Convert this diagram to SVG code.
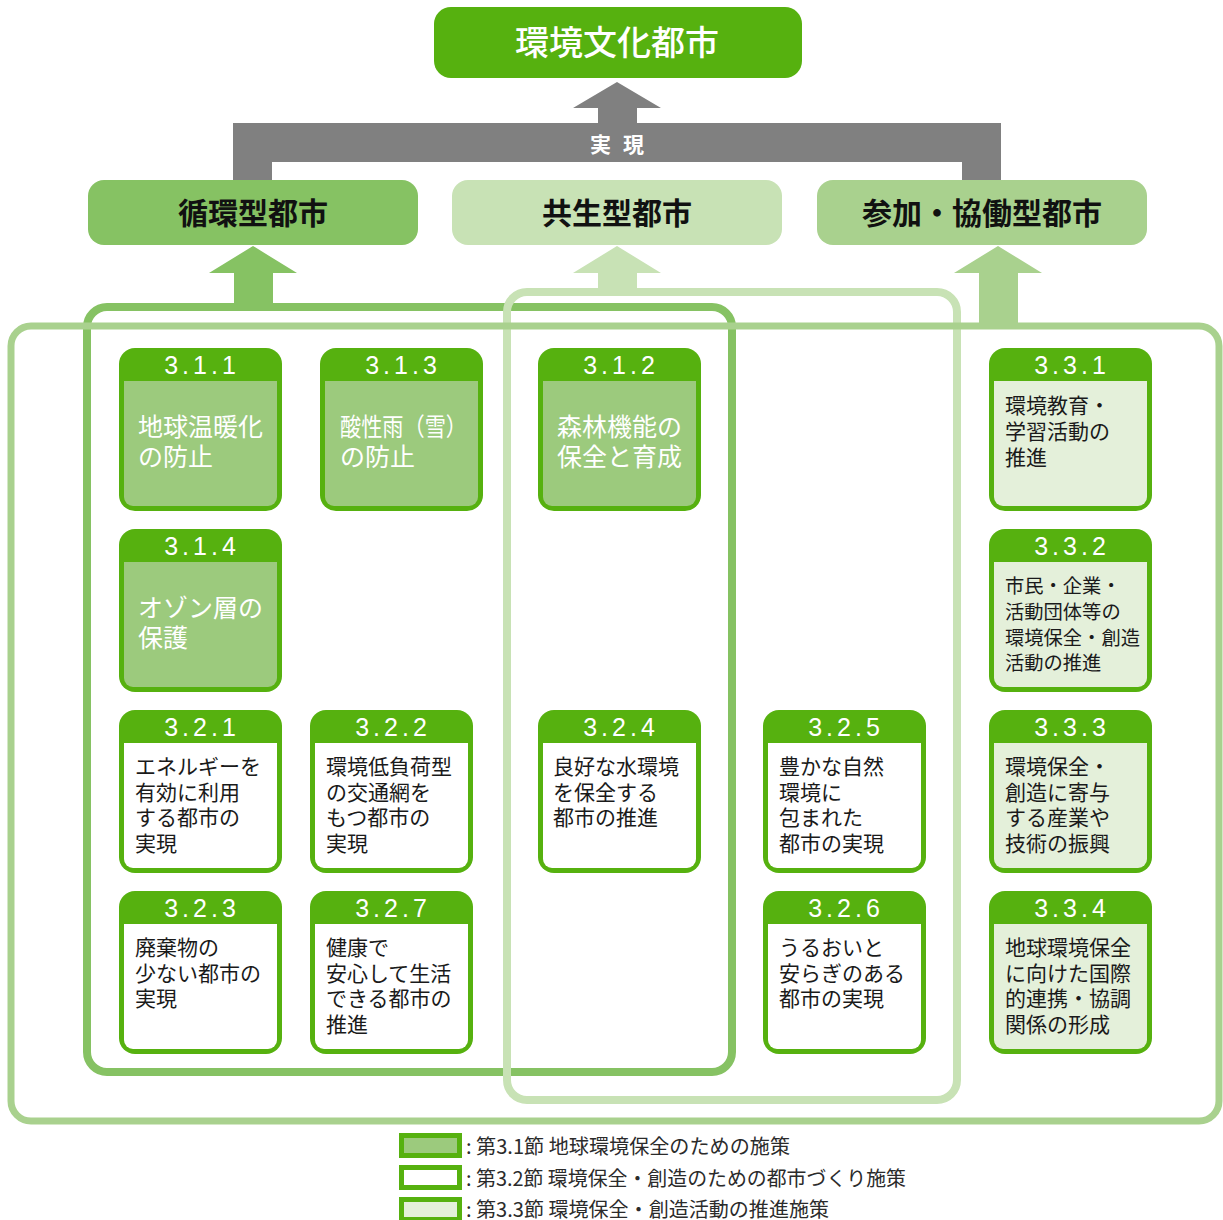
<svg xmlns="http://www.w3.org/2000/svg" width="1223" height="1220" viewBox="0 0 1223 1220">
<style>
.jp{font-family:"Noto Sans CJK JP","Noto Sans",sans-serif}
.num{font-family:"Liberation Sans",Arial,sans-serif;font-size:25px;fill:#fff;letter-spacing:4px;text-anchor:middle}
.hdr{fill:#56b10f}
.b1{fill:#9cca7d}
.b2{fill:#fff}
.b3{fill:#e4f0da}
.tw{fill:#fff;font-size:25px}
.tb{fill:#1a1a1a;font-size:21px}
.sm{font-size:19.3px}
.city{font-size:30px;font-weight:700;fill:#111;text-anchor:middle}
.leg{font-size:20px;fill:#2b2b2b}
</style>
<rect width="1223" height="1220" fill="#fff"/>

<g id="connectors">
  <!-- gray realization arrow -->
  <polygon fill="#808080" points="617,82 661,108 637,108 637,123 1001,123 1001,180 962,180 962,162 272,162 272,180 233,180 233,123 598,123 598,108 573,108"/>
  <!-- green arrows -->
  <polygon fill="#86c263" points="253,246 297,273 273,273 273,309 234,309 234,273 209,273"/>
  <polygon fill="#c8e2b5" points="617,246 661,273 637,273 637,294 598,294 598,273 573,273"/>
  <polygon fill="#a9d18e" points="998,246 1042,273 1018,273 1018,328 979,328 979,273 954,273"/>
  <!-- group outlines -->
  <rect x="87" y="307" width="645" height="765" rx="20" fill="none" stroke="#86c263" stroke-width="8"/>
  <rect x="507" y="292" width="450" height="808" rx="20" fill="none" stroke="#c8e2b5" stroke-width="8"/>
  <rect x="11" y="326" width="1208" height="795" rx="20" fill="none" stroke="#a9d18e" stroke-width="7"/>
</g>

<g id="top">
  <rect x="434" y="7" width="368" height="71" rx="17" fill="#56b10f"/>
  <text class="jp" x="617" y="55" font-size="34" font-weight="500" fill="#fff" text-anchor="middle">環境文化都市</text>
  <text class="jp" x="623" y="152" font-size="21" font-weight="700" fill="#fff" text-anchor="middle" letter-spacing="12">実現</text>
</g>

<g id="city1">
  <rect x="88" y="180" width="330" height="65" rx="16" fill="#86c263"/>
  <text class="jp city" x="253" y="224">循環型都市</text>
</g>
<g id="city2">
  <rect x="452" y="180" width="330" height="65" rx="16" fill="#c8e2b5"/>
  <text class="jp city" x="617" y="224">共生型都市</text>
</g>
<g id="city3">
  <rect x="817" y="180" width="330" height="65" rx="16" fill="#a9d18e"/>
  <text class="jp city" x="982" y="224">参加・協働型都市</text>
</g>

<defs>
  <path id="body" d="M5,33 H158 V149 A9,9 0 0 1 149,158 H14 A9,9 0 0 1 5,149 Z"/>
  <rect id="frame" x="0" y="0" width="163" height="163" rx="16"/>
</defs>

<!-- 3.1 cards -->
<g id="c311" transform="translate(119,348)">
  <use href="#frame" class="hdr"/><use href="#body" class="b1"/>
  <text class="num" x="83" y="26">3.1.1</text>
  <text class="jp tw" x="19" y="88">地球温暖化</text>
  <text class="jp tw" x="19" y="118">の防止</text>
</g>
<g id="c313" transform="translate(320,348)">
  <use href="#frame" class="hdr"/><use href="#body" class="b1"/>
  <text class="num" x="83" y="26">3.1.3</text>
  <text class="jp tw" x="20" y="88" textLength="127" lengthAdjust="spacingAndGlyphs">酸性雨（雪）</text>
  <text class="jp tw" x="20" y="118">の防止</text>
</g>
<g id="c312" transform="translate(538,348)">
  <use href="#frame" class="hdr"/><use href="#body" class="b1"/>
  <text class="num" x="83" y="26">3.1.2</text>
  <text class="jp tw" x="19" y="88">森林機能の</text>
  <text class="jp tw" x="19" y="118">保全と育成</text>
</g>
<g id="c314" transform="translate(119,529)">
  <use href="#frame" class="hdr"/><use href="#body" class="b1"/>
  <text class="num" x="83" y="26">3.1.4</text>
  <text class="jp tw" x="19" y="88">オゾン層の</text>
  <text class="jp tw" x="19" y="118">保護</text>
</g>

<!-- 3.2 cards -->
<g id="c321" transform="translate(119,710)">
  <use href="#frame" class="hdr"/><use href="#body" class="b2"/>
  <text class="num" x="83" y="26">3.2.1</text>
  <text class="jp tb" x="16" y="64">エネルギーを</text>
  <text class="jp tb" x="16" y="89.5">有効に利用</text>
  <text class="jp tb" x="16" y="115">する都市の</text>
  <text class="jp tb" x="16" y="140.5">実現</text>
</g>
<g id="c322" transform="translate(310,710)">
  <use href="#frame" class="hdr"/><use href="#body" class="b2"/>
  <text class="num" x="83" y="26">3.2.2</text>
  <text class="jp tb" x="16" y="64">環境低負荷型</text>
  <text class="jp tb" x="16" y="89.5">の交通網を</text>
  <text class="jp tb" x="16" y="115">もつ都市の</text>
  <text class="jp tb" x="16" y="140.5">実現</text>
</g>
<g id="c324" transform="translate(538,710)">
  <use href="#frame" class="hdr"/><use href="#body" class="b2"/>
  <text class="num" x="83" y="26">3.2.4</text>
  <text class="jp tb" x="15" y="64">良好な水環境</text>
  <text class="jp tb" x="15" y="89.5">を保全する</text>
  <text class="jp tb" x="15" y="115">都市の推進</text>
</g>
<g id="c325" transform="translate(763,710)">
  <use href="#frame" class="hdr"/><use href="#body" class="b2"/>
  <text class="num" x="83" y="26">3.2.5</text>
  <text class="jp tb" x="16" y="64">豊かな自然</text>
  <text class="jp tb" x="16" y="89.5">環境に</text>
  <text class="jp tb" x="16" y="115">包まれた</text>
  <text class="jp tb" x="16" y="140.5">都市の実現</text>
</g>
<g id="c323" transform="translate(119,891)">
  <use href="#frame" class="hdr"/><use href="#body" class="b2"/>
  <text class="num" x="83" y="26">3.2.3</text>
  <text class="jp tb" x="16" y="64">廃棄物の</text>
  <text class="jp tb" x="16" y="89.5">少ない都市の</text>
  <text class="jp tb" x="16" y="115">実現</text>
</g>
<g id="c327" transform="translate(310,891)">
  <use href="#frame" class="hdr"/><use href="#body" class="b2"/>
  <text class="num" x="83" y="26">3.2.7</text>
  <text class="jp tb" x="16" y="64">健康で</text>
  <text class="jp tb" x="16" y="89.5">安心して生活</text>
  <text class="jp tb" x="16" y="115">できる都市の</text>
  <text class="jp tb" x="16" y="140.5">推進</text>
</g>
<g id="c326" transform="translate(763,891)">
  <use href="#frame" class="hdr"/><use href="#body" class="b2"/>
  <text class="num" x="83" y="26">3.2.6</text>
  <text class="jp tb" x="16" y="64">うるおいと</text>
  <text class="jp tb" x="16" y="89.5">安らぎのある</text>
  <text class="jp tb" x="16" y="115">都市の実現</text>
</g>

<!-- 3.3 cards -->
<g id="c331" transform="translate(989,348)">
  <use href="#frame" class="hdr"/><use href="#body" class="b3"/>
  <text class="num" x="83" y="26">3.3.1</text>
  <text class="jp tb" x="16" y="65">環境教育・</text>
  <text class="jp tb" x="16" y="91">学習活動の</text>
  <text class="jp tb" x="16" y="117">推進</text>
</g>
<g id="c332" transform="translate(989,529)">
  <use href="#frame" class="hdr"/><use href="#body" class="b3"/>
  <text class="num" x="83" y="26">3.3.2</text>
  <text class="jp tb sm" x="16" y="64">市民・企業・</text>
  <text class="jp tb sm" x="16" y="90">活動団体等の</text>
  <text class="jp tb sm" x="16" y="116">環境保全・創造</text>
  <text class="jp tb sm" x="16" y="141">活動の推進</text>
</g>
<g id="c333" transform="translate(989,710)">
  <use href="#frame" class="hdr"/><use href="#body" class="b3"/>
  <text class="num" x="83" y="26">3.3.3</text>
  <text class="jp tb" x="16" y="64">環境保全・</text>
  <text class="jp tb" x="16" y="89.5">創造に寄与</text>
  <text class="jp tb" x="16" y="115">する産業や</text>
  <text class="jp tb" x="16" y="140.5">技術の振興</text>
</g>
<g id="c334" transform="translate(989,891)">
  <use href="#frame" class="hdr"/><use href="#body" class="b3"/>
  <text class="num" x="83" y="26">3.3.4</text>
  <text class="jp tb" x="16" y="64">地球環境保全</text>
  <text class="jp tb" x="16" y="89.5">に向けた国際</text>
  <text class="jp tb" x="16" y="115">的連携・協調</text>
  <text class="jp tb" x="16" y="140.5">関係の形成</text>
</g>

<g id="legend">
  <rect x="401.5" y="1135.5" width="58" height="20" fill="#9cca7d" stroke="#56b10f" stroke-width="5"/>
  <text class="jp leg" x="466" y="1154" textLength="324" lengthAdjust="spacingAndGlyphs">: 第3.1節 地球環境保全のための施策</text>
  <rect x="401.5" y="1167.5" width="58" height="20" fill="#fff" stroke="#56b10f" stroke-width="5"/>
  <text class="jp leg" x="466" y="1186" textLength="440" lengthAdjust="spacingAndGlyphs">: 第3.2節 環境保全・創造のための都市づくり施策</text>
  <rect x="401.5" y="1199.5" width="58" height="20" fill="#e4f0da" stroke="#56b10f" stroke-width="5"/>
  <text class="jp leg" x="466" y="1217" textLength="363" lengthAdjust="spacingAndGlyphs">: 第3.3節 環境保全・創造活動の推進施策</text>
</g>
</svg>
